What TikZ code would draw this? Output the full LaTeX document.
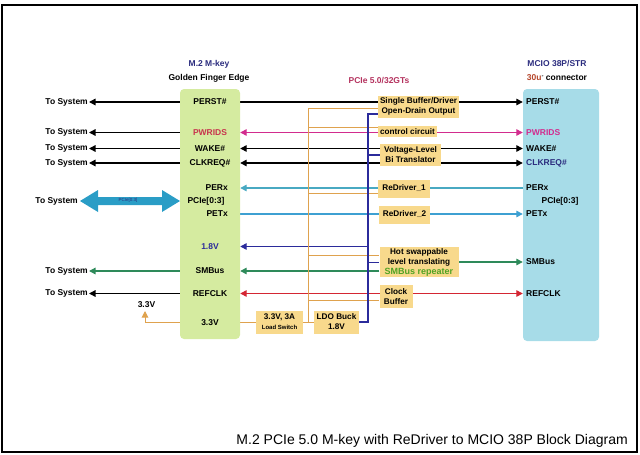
\documentclass[tikz,border=0pt]{standalone}
\usepackage{fontspec}
\setmainfont{Liberation Sans}
\usetikzlibrary{arrows.meta,calc}
\pgfdeclarelayer{bg}\pgfsetlayers{bg,main}
\definecolor{gbox}{HTML}{D5EBA0}
\definecolor{bbox}{HTML}{A7DCE8}
\definecolor{ybox}{HTML}{F8D98C}
\definecolor{orln}{HTML}{DFA24E}
\definecolor{dblue}{HTML}{2B2B9B}
\definecolor{mag}{HTML}{D22C8E}
\definecolor{crim}{HTML}{C8354E}
\definecolor{tealA}{HTML}{48A9C2}
\definecolor{blueA}{HTML}{3DA0D2}
\definecolor{sgreen}{HTML}{2E8A5A}
\definecolor{redA}{HTML}{D42633}
\definecolor{navy}{HTML}{2B2C7E}
\definecolor{hdrred}{HTML}{B4325E}
\definecolor{brn}{HTML}{B5452A}
\definecolor{lgreen}{HTML}{4FA323}
\definecolor{bigarr}{HTML}{2A9DC6}
\tikzset{
  lbl/.style={font=\fontsize{8.5}{9}\selectfont\bfseries, inner sep=0pt},
  hdr/.style={font=\fontsize{8.5}{10}\selectfont\bfseries, inner sep=0pt},
  tosys/.style={font=\fontsize{8.5}{10}\selectfont\bfseries, inner sep=1pt, anchor=east},
  ybx/.style={fill=ybox, font=\fontsize{8.2}{10}\selectfont\bfseries, align=center, inner sep=0pt},
  ln/.style={line width=1.3pt},
  blk/.style={ln, black},
  orl/.style={line width=1pt, orln},
  dbl/.style={ln, dblue},
}
\begin{document}
\begin{tikzpicture}[x=1pt,y=-1pt, >={Triangle[length=6.5pt,width=6.5pt]}]
\useasboundingbox (0,0) rectangle (640,455);
\draw[line width=2.5pt] (2,5) rectangle (637,452);

% main boxes
\node[fill=gbox, rounded corners=4pt, minimum width=60pt, minimum height=250pt, inner sep=0pt] (G) at (210,214) {};
\node[fill=bbox, rounded corners=4pt, minimum width=76pt, minimum height=252pt, inner sep=0pt] (B) at (561,215) {};

% headers
\node[hdr, text=navy] (gh1) at (209,64) {M.2 M-key};
\node[hdr] (gh2) at (209,78) {Golden Finger Edge};
\node[hdr, text=hdrred] (ph) at (379,81) {PCIe 5.0/32GTs};
\node[hdr, text=navy] (bh1) at (557,64) {MCIO 38P/STR};
\node[hdr] (bh2) at (557,78) {\textcolor{brn}{30u}\raisebox{2.5pt}{\fontsize{4}{4}\selectfont ''} connector};

% left box labels
\node[lbl] (gPERST) at (210,102) {PERST\#};
\node[lbl, text=crim] (gPWR) at (210,132.5) {PWRIDS};
\node[lbl] (gWAKE) at (210,148.5) {WAKE\#};
\node[lbl] (gCLK) at (210,163) {CLKREQ\#};
\node[lbl, anchor=east] (gPERx) at (228,188) {PERx};
\node[lbl] (gPCIe) at (206,201) {PCIe[0:3]};
\node[lbl, anchor=east] (gPETx) at (228,214) {PETx};
\node[lbl, text=dblue] (g18) at (210,246.5) {1.8V};
\node[lbl] (gSMB) at (210,271) {SMBus};
\node[lbl] (gREF) at (210,293.5) {REFCLK};
\node[lbl] (g33) at (210,322.5) {3.3V};

% right box labels
\node[lbl, anchor=west] (bPERST) at (526,102) {PERST\#};
\node[lbl, anchor=west, text=mag] (bPWR) at (526,132.5) {PWRIDS};
\node[lbl, anchor=west] (bWAKE) at (526,148.5) {WAKE\#};
\node[lbl, anchor=west, text=navy] (bCLK) at (526,163) {CLKREQ\#};
\node[lbl, anchor=west] (bPERx) at (526,188) {PERx};
\node[lbl] (bPCIe) at (560,201) {PCIe[0:3]};
\node[lbl, anchor=west] (bPETx) at (526,214) {PETx};
\node[lbl, anchor=west] (bSMB) at (526,262) {SMBus};
\node[lbl, anchor=west] (bREF) at (526,293.5) {REFCLK};

% To System
\node[tosys] (ts1) at (89,102) {To System};
\node[tosys] (ts2) at (89,132.5) {To System};
\node[tosys] (ts3) at (89,148.5) {To System};
\node[tosys] (ts4) at (89,163) {To System};
\node[tosys] (ts5) at (79,201) {To System};
\node[tosys] (ts6) at (89,271) {To System};
\node[tosys] (ts7) at (89,293.5) {To System};
\node[lbl] (l33) at (146.5,305) {3.3V};

% middle boxes
\node[ybx, minimum width=81pt, minimum height=22pt] (sb) at (418.5,106.5) {Single Buffer/Driver\\Open-Drain Output};
\node[ybx, minimum width=59pt, minimum height=11pt] (cc) at (407.5,131.5) {control circuit};
\node[ybx, minimum width=61pt, minimum height=22pt] (vl) at (410.5,155) {Voltage-Level\\Bi Translator};
\node[ybx, minimum width=52pt, minimum height=18pt] (r1) at (404,188.5) {ReDriver\_1};
\node[ybx, minimum width=51pt, minimum height=18pt] (r2) at (404.5,214.5) {ReDriver\_2};
\node[ybx, minimum width=79pt, minimum height=30pt] (hs) at (419,262) {Hot swappable\\level translating\\{\color{lgreen}\fontsize{9}{10}\selectfont SMBus repeater}};
\node[ybx, minimum width=33pt, minimum height=23pt] (cb) at (396,296.5) {Clock\\Buffer};
\node[ybx, minimum width=47pt, minimum height=23pt] (ls) at (279.5,322) {3.3V, 3A\\{\fontsize{6}{7}\selectfont Load Switch}};
\node[ybx, minimum width=45pt, minimum height=23pt] (ldo) at (336.5,322) {LDO Buck\\1.8V};

% power rails
\coordinate (ov) at (308,322);
\coordinate (o1) at (308,108);
\coordinate (o2) at (308,127);
\coordinate (o3) at (308,193);
\coordinate (o4) at (308,255);
\coordinate (o5) at (308,300.5);
\coordinate (bv) at (368,322);
\coordinate (b1) at (368,114);
\coordinate (b2) at (368,155);
\coordinate (b4) at (368,262.5);
\coordinate (c33) at (145,311);

% big double arrow
\fill[bigarr] (80,201) -- (98,190) -- (98,197) -- (162,197) -- (162,190) -- (180,201) -- (162,212) -- (162,205) -- (98,205) -- (98,212) -- cycle;
\node[font=\fontsize{4.5}{5}\selectfont, text=navy, inner sep=0pt] (pcl) at (128,200.5) {PCIe[0:3]};

\begin{pgfonlayer}{bg}
% left side
\draw[blk,->] (G.west |- ts1.east) -- (ts1.east);
\draw[blk,->] (G.west |- ts2.east) -- (ts2.east);
\draw[blk,->] (G.west |- ts3.east) -- (ts3.east);
\draw[blk,->] (G.west |- ts4.east) -- (ts4.east);
\draw[ln,sgreen,->] (G.west |- ts6.east) -- (ts6.east);
\draw[blk,->] (G.west |- ts7.east) -- (ts7.east);
\draw[orl,->] (G.west |- g33) -- (c33 |- g33) -- (c33);
% right side signals
\draw[blk] (G.east |- gPERST) -- (sb.west |- gPERST);
\draw[blk,->] (sb.east |- gPERST) -- (B.west |- bPERST);
\draw[ln,mag,<->] (G.east |- gPWR) -- (B.west |- bPWR);
\draw[blk,<->] (G.east |- gWAKE) -- (B.west |- bWAKE);
\draw[blk,<->] (G.east |- gCLK) -- (B.west |- bCLK);
\draw[ln,tealA,->] (B.west |- bPERx) -- (G.east |- gPERx);
\draw[ln,blueA,->] (G.east |- gPETx) -- (B.west |- bPETx);
\draw[dbl,->] (bv |- g18) -- (G.east |- g18);
\draw[ln,sgreen,->] (hs.west |- gSMB) -- (G.east |- gSMB);
\draw[ln,sgreen,->] (hs.east |- bSMB) -- (B.west |- bSMB);
\draw[ln,redA,<->] (G.east |- gREF) -- (B.west |- bREF);
% 3.3V rail
\draw[orl] (G.east |- ls.west) -- (ls.west);
\draw[orl] (ls.east) -- (ldo.west);
\draw[orl] (ov) -- (o1) -- (sb.west |- o1);
\draw[orl] (o2) -- (cc.west |- o2);
\draw[orl] (o3) -- (r1.west |- o3);
\draw[orl] (o4) -- (hs.west |- o4);
\draw[orl] (o5) -- (cb.west |- o5);
% 1.8V rail
\draw[dbl] (ldo.east) -- (bv) -- (b1) -- (sb.west |- b1);
\draw[dbl] (b2) -- (vl.west |- b2);
\draw[dbl] (b4) -- (hs.west |- b4);
\end{pgfonlayer}

\node[font=\fontsize{14}{16}\selectfont, anchor=east, inner sep=0pt] (title) at (628,441) {M.2 PCIe 5.0 M-key with ReDriver to MCIO 38P Block Diagram};
\end{tikzpicture}
\end{document}
